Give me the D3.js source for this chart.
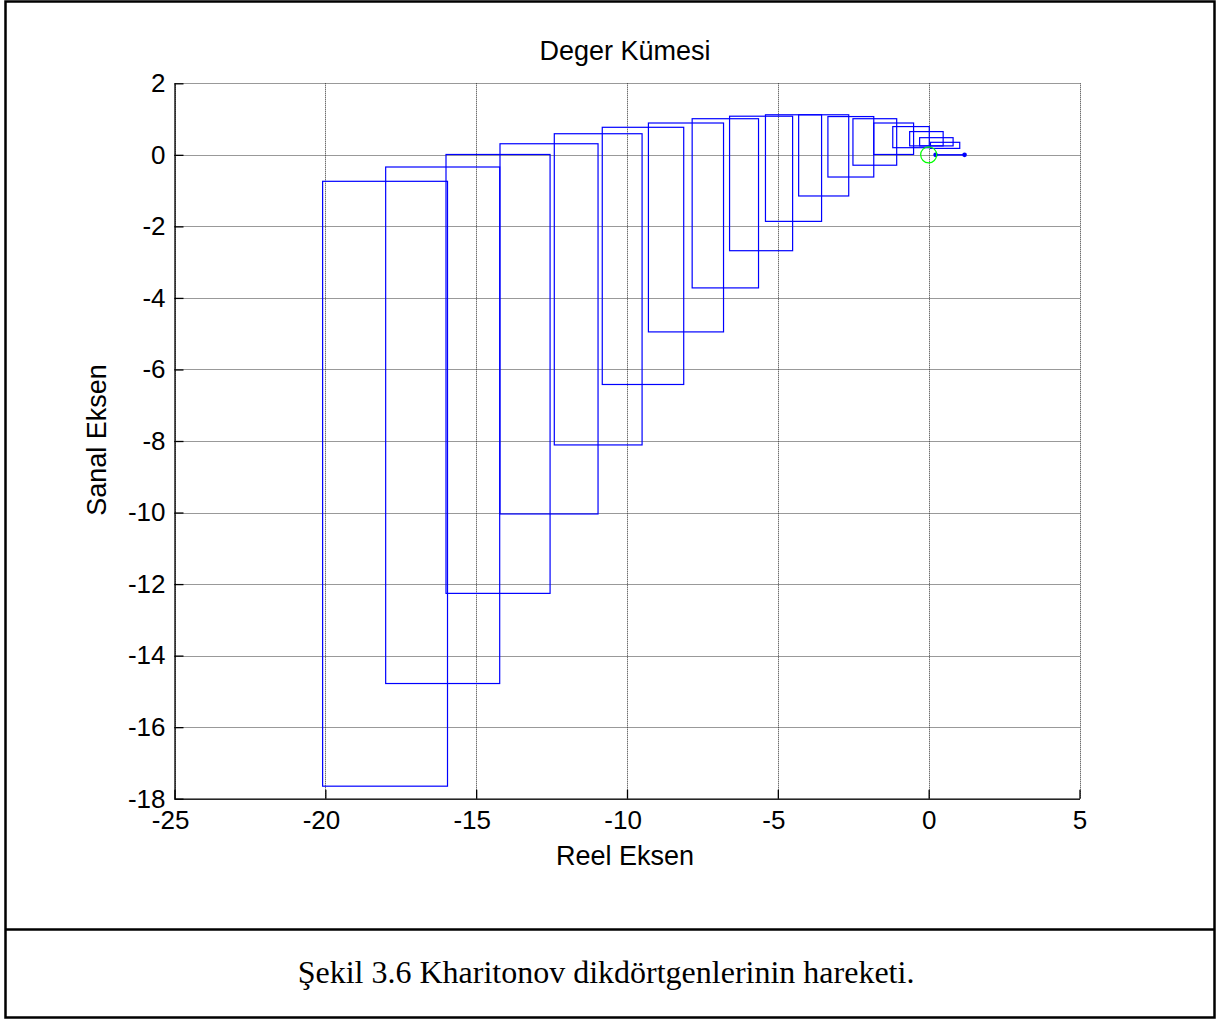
<!DOCTYPE html>
<html>
<head>
<meta charset="utf-8">
<script src="https://cdn.jsdelivr.net/npm/d3@7"></script>
<style>
  body { margin: 0; background: #fff; }
  svg { display: block; }
</style>
</head>
<body>
<div id="chart"></div>
<script>
// Kharitonov rectangles, one per frequency (real / imaginary extents)
const reMin = [-20.09, -18.00, -16.00, -14.21, -12.41, -10.82, -9.29, -7.84, -6.60, -5.41, -4.31, -3.34, -2.51, -1.82, -1.19, -0.63, -0.30, 0.06];
const reMax = [-15.95, -14.22, -12.55, -10.96, -9.50, -8.12, -6.80, -5.64, -4.51, -3.55, -2.65, -1.82, -1.06, -0.50, 0.02, 0.48, 0.81, 1.03];
const imMin = [-17.65, -14.78, -12.26, -10.04, -8.11, -6.42, -4.95, -3.72, -2.68, -1.86, -1.15, -0.62, -0.29, 0.01, 0.20, 0.25, 0.25, 0.18];
const imMax = [-0.74, -0.34, 0.01, 0.31, 0.59, 0.77, 0.89, 1.01, 1.08, 1.12, 1.12, 1.07, 1.01, 0.89, 0.79, 0.65, 0.48, 0.35];

// degenerate rectangle at w = 0 (segment on the real axis)
const zeroSeg = [0.23, 1.19];
const origin = [0, 0];

const xTicks = [-25, -20, -15, -10, -5, 0, 5];
const yTicks = [-18, -16, -14, -12, -10, -8, -6, -4, -2, 0, 2];

const W = 1221, H = 1021;
const plot = { left: 174.5, right: 1079.5, top: 83.3, bottom: 798.7 };

const svg = d3.select("#chart").append("svg")
  .attr("width", W).attr("height", H);

// frame + caption box
svg.append("rect")
  .attr("x", 5.5).attr("y", 1.5).attr("width", 1209).attr("height", 1016)
  .attr("fill", "none").attr("stroke", "#000").attr("stroke-width", 2.5);
svg.append("line")
  .attr("x1", 5.5).attr("x2", 1214.5).attr("y1", 929.5).attr("y2", 929.5)
  .attr("stroke", "#000").attr("stroke-width", 2.5);
svg.append("text")
  .attr("x", 606).attr("y", 983)
  .attr("text-anchor", "middle")
  .attr("font-family", "'Liberation Serif', 'Times New Roman', serif")
  .attr("font-size", "32px")
  .text("Şekil 3.6 Kharitonov dikdörtgenlerinin hareketi.");

const x = d3.scaleLinear().domain([-25, 5]).range([plot.left, plot.right]);
const y = d3.scaleLinear().domain([-18, 2]).range([plot.bottom, plot.top]);

const font = "'Liberation Sans', Arial, sans-serif";

// grid (dotted, MATLAB style)
const grid = svg.append("g")
  .attr("stroke", "#333").attr("stroke-width", 1).attr("stroke-dasharray", "1,1");
grid.selectAll(".gx").data(xTicks).join("line")
  .attr("x1", (d) => Math.round(x(d)) + 0.5).attr("x2", (d) => Math.round(x(d)) + 0.5)
  .attr("y1", plot.top).attr("y2", plot.bottom);
grid.selectAll(".gy").data(yTicks).join("line")
  .attr("y1", (d) => Math.round(y(d)) + 0.5).attr("y2", (d) => Math.round(y(d)) + 0.5)
  .attr("x1", plot.left).attr("x2", plot.right);

// axes
const xAxis = svg.append("g")
  .attr("transform", `translate(0,${plot.bottom})`)
  .call(d3.axisBottom(x).tickValues(xTicks).tickSizeInner(-9).tickSizeOuter(0).tickPadding(12));
const yAxis = svg.append("g")
  .attr("transform", `translate(${plot.left},0)`)
  .call(d3.axisLeft(y).tickValues(yTicks).tickSizeInner(-9).tickSizeOuter(0).tickPadding(9));

[xAxis, yAxis].forEach((a) => {
  a.select(".domain").attr("stroke", "#000").attr("stroke-width", 1.3);
  a.selectAll(".tick line").attr("stroke", "#000").attr("stroke-width", 1.3);
  a.selectAll(".tick text")
    .attr("font-family", font).attr("font-size", "26px").attr("fill", "#000")
    .text((d) => String(d).replace("−", "-"));
});
xAxis.selectAll(".tick text").attr("dx", (d) => (d < 0 ? "-0.17em" : "0"));

// rectangles
const rects = reMin.map((r, i) => ({ x0: r, x1: reMax[i], y0: imMin[i], y1: imMax[i] }));
svg.append("g").selectAll("rect").data(rects).join("rect")
  .attr("x", (d) => x(d.x0))
  .attr("y", (d) => y(d.y1))
  .attr("width", (d) => x(d.x1) - x(d.x0))
  .attr("height", (d) => y(d.y0) - y(d.y1))
  .attr("fill", "none")
  .attr("stroke", "#0000ff")
  .attr("stroke-width", 1.2);

// w = 0 segment with dots
svg.append("line")
  .attr("x1", x(zeroSeg[0])).attr("x2", x(zeroSeg[1]))
  .attr("y1", y(0)).attr("y2", y(0))
  .attr("stroke", "#0000ff").attr("stroke-width", 1.5);
svg.append("g").selectAll("circle").data(zeroSeg).join("circle")
  .attr("cx", (d) => x(d)).attr("cy", y(0)).attr("r", 2.3)
  .attr("fill", "#0000ff");

// origin marker
svg.append("circle")
  .attr("cx", x(origin[0])).attr("cy", y(origin[1])).attr("r", 8)
  .attr("fill", "none").attr("stroke", "#00ff00").attr("stroke-width", 1.2);

// labels
svg.append("text")
  .attr("x", 625).attr("y", 60)
  .attr("text-anchor", "middle")
  .attr("font-family", font).attr("font-size", "27px")
  .text("Deger Kümesi");
svg.append("text")
  .attr("x", 625).attr("y", 865)
  .attr("text-anchor", "middle")
  .attr("font-family", font).attr("font-size", "27px")
  .text("Reel Eksen");
svg.append("text")
  .attr("transform", `translate(106,${(plot.top + plot.bottom) / 2 - 1}) rotate(-90)`)
  .attr("text-anchor", "middle")
  .attr("font-family", font).attr("font-size", "27px")
  .text("Sanal Eksen");
</script>
</body>
</html>
